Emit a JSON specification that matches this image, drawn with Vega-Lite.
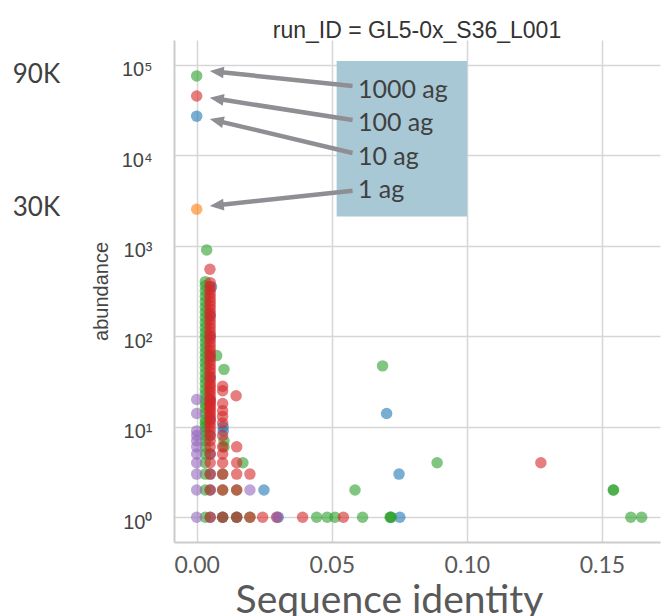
{
  "$schema": "https://vega.github.io/schema/vega-lite/v6.json",
  "width": 486,
  "height": 502,
  "autosize": {"type": "none"},
  "padding": {"left": 174, "top": 40, "right": 2, "bottom": 74},
  "background": "white",
  "config": {"view": {"stroke": null}},
  "title": {"text": "run_ID = GL5-0x_S36_L001", "font": "Liberation Sans", "fontSize": 23, "fontWeight": "normal", "color": "#333333", "baseline": "alphabetic", "frame": "group", "offset": 7, "dy": 28, "anchor": "middle"},
  "datasets": {
    "points": [
      {"sample": "10 ag", "identity": 0, "abundance": 26900},
      {"sample": "10 ag", "identity": 0.005, "abundance": 1},
      {"sample": "10 ag", "identity": 0.005, "abundance": 2},
      {"sample": "10 ag", "identity": 0.005, "abundance": 3},
      {"sample": "10 ag", "identity": 0.005, "abundance": 5},
      {"sample": "10 ag", "identity": 0.005, "abundance": 8},
      {"sample": "10 ag", "identity": 0.005, "abundance": 12},
      {"sample": "10 ag", "identity": 0.005, "abundance": 20},
      {"sample": "10 ag", "identity": 0.005, "abundance": 35},
      {"sample": "10 ag", "identity": 0.005, "abundance": 60},
      {"sample": "10 ag", "identity": 0.005, "abundance": 100},
      {"sample": "10 ag", "identity": 0.005, "abundance": 170},
      {"sample": "10 ag", "identity": 0.0055, "abundance": 350},
      {"sample": "10 ag", "identity": 0.0096, "abundance": 1},
      {"sample": "10 ag", "identity": 0.0098, "abundance": 9},
      {"sample": "10 ag", "identity": 0.0098, "abundance": 10},
      {"sample": "10 ag", "identity": 0.0148, "abundance": 1},
      {"sample": "10 ag", "identity": 0.0249, "abundance": 2},
      {"sample": "10 ag", "identity": 0.0302, "abundance": 1},
      {"sample": "10 ag", "identity": 0.0703, "abundance": 14},
      {"sample": "10 ag", "identity": 0.0749, "abundance": 3},
      {"sample": "10 ag", "identity": 0.0752, "abundance": 1},
      {"sample": "1 ag", "identity": 0, "abundance": 2518},
      {"sample": "1000 ag", "identity": 0, "abundance": 74800},
      {"sample": "1000 ag", "identity": 0.0037, "abundance": 895},
      {"sample": "1000 ag", "identity": 0.0032, "abundance": 1},
      {"sample": "1000 ag", "identity": 0.0032, "abundance": 2},
      {"sample": "1000 ag", "identity": 0.0032, "abundance": 3},
      {"sample": "1000 ag", "identity": 0.0032, "abundance": 4},
      {"sample": "1000 ag", "identity": 0.0032, "abundance": 5},
      {"sample": "1000 ag", "identity": 0.0032, "abundance": 6},
      {"sample": "1000 ag", "identity": 0.0032, "abundance": 7},
      {"sample": "1000 ag", "identity": 0.0032, "abundance": 8},
      {"sample": "1000 ag", "identity": 0.0032, "abundance": 9},
      {"sample": "1000 ag", "identity": 0.0032, "abundance": 10},
      {"sample": "1000 ag", "identity": 0.0032, "abundance": 11},
      {"sample": "1000 ag", "identity": 0.0032, "abundance": 12},
      {"sample": "1000 ag", "identity": 0.0032, "abundance": 14},
      {"sample": "1000 ag", "identity": 0.0032, "abundance": 16},
      {"sample": "1000 ag", "identity": 0.0032, "abundance": 18},
      {"sample": "1000 ag", "identity": 0.0032, "abundance": 20},
      {"sample": "1000 ag", "identity": 0.0032, "abundance": 23},
      {"sample": "1000 ag", "identity": 0.0032, "abundance": 26},
      {"sample": "1000 ag", "identity": 0.0032, "abundance": 30},
      {"sample": "1000 ag", "identity": 0.0032, "abundance": 34},
      {"sample": "1000 ag", "identity": 0.0032, "abundance": 39},
      {"sample": "1000 ag", "identity": 0.0032, "abundance": 45},
      {"sample": "1000 ag", "identity": 0.0032, "abundance": 51},
      {"sample": "1000 ag", "identity": 0.0032, "abundance": 58},
      {"sample": "1000 ag", "identity": 0.0032, "abundance": 66},
      {"sample": "1000 ag", "identity": 0.0032, "abundance": 75},
      {"sample": "1000 ag", "identity": 0.0032, "abundance": 85},
      {"sample": "1000 ag", "identity": 0.0032, "abundance": 97},
      {"sample": "1000 ag", "identity": 0.0032, "abundance": 110},
      {"sample": "1000 ag", "identity": 0.0032, "abundance": 125},
      {"sample": "1000 ag", "identity": 0.0032, "abundance": 142},
      {"sample": "1000 ag", "identity": 0.0032, "abundance": 162},
      {"sample": "1000 ag", "identity": 0.0032, "abundance": 185},
      {"sample": "1000 ag", "identity": 0.0032, "abundance": 210},
      {"sample": "1000 ag", "identity": 0.0032, "abundance": 240},
      {"sample": "1000 ag", "identity": 0.0032, "abundance": 275},
      {"sample": "1000 ag", "identity": 0.0032, "abundance": 315},
      {"sample": "1000 ag", "identity": 0.0032, "abundance": 360},
      {"sample": "1000 ag", "identity": 0.0032, "abundance": 400},
      {"sample": "1000 ag", "identity": 0.0074, "abundance": 61},
      {"sample": "1000 ag", "identity": 0.0101, "abundance": 43},
      {"sample": "1000 ag", "identity": 0.0101, "abundance": 6},
      {"sample": "1000 ag", "identity": 0.0101, "abundance": 7},
      {"sample": "1000 ag", "identity": 0.0096, "abundance": 1},
      {"sample": "1000 ag", "identity": 0.0096, "abundance": 2},
      {"sample": "1000 ag", "identity": 0.0096, "abundance": 3},
      {"sample": "1000 ag", "identity": 0.0148, "abundance": 1},
      {"sample": "1000 ag", "identity": 0.0148, "abundance": 2},
      {"sample": "1000 ag", "identity": 0.0171, "abundance": 4},
      {"sample": "1000 ag", "identity": 0.0197, "abundance": 1},
      {"sample": "1000 ag", "identity": 0.0444, "abundance": 1},
      {"sample": "1000 ag", "identity": 0.0483, "abundance": 1},
      {"sample": "1000 ag", "identity": 0.0512, "abundance": 1},
      {"sample": "1000 ag", "identity": 0.0586, "abundance": 2},
      {"sample": "1000 ag", "identity": 0.0614, "abundance": 1},
      {"sample": "1000 ag", "identity": 0.0688, "abundance": 47},
      {"sample": "1000 ag", "identity": 0.0716, "abundance": 1},
      {"sample": "1000 ag", "identity": 0.0718, "abundance": 1},
      {"sample": "1000 ag", "identity": 0.072, "abundance": 1},
      {"sample": "1000 ag", "identity": 0.089, "abundance": 4},
      {"sample": "1000 ag", "identity": 0.1542, "abundance": 2},
      {"sample": "1000 ag", "identity": 0.1543, "abundance": 2},
      {"sample": "1000 ag", "identity": 0.1607, "abundance": 1},
      {"sample": "1000 ag", "identity": 0.1647, "abundance": 1},
      {"sample": "100 ag", "identity": 0, "abundance": 44900},
      {"sample": "100 ag", "identity": 0.0049, "abundance": 548},
      {"sample": "100 ag", "identity": 0.005, "abundance": 1},
      {"sample": "100 ag", "identity": 0.005, "abundance": 2},
      {"sample": "100 ag", "identity": 0.005, "abundance": 3},
      {"sample": "100 ag", "identity": 0.005, "abundance": 4},
      {"sample": "100 ag", "identity": 0.005, "abundance": 5},
      {"sample": "100 ag", "identity": 0.005, "abundance": 6},
      {"sample": "100 ag", "identity": 0.005, "abundance": 7},
      {"sample": "100 ag", "identity": 0.005, "abundance": 8},
      {"sample": "100 ag", "identity": 0.005, "abundance": 9},
      {"sample": "100 ag", "identity": 0.005, "abundance": 10},
      {"sample": "100 ag", "identity": 0.005, "abundance": 11},
      {"sample": "100 ag", "identity": 0.005, "abundance": 12},
      {"sample": "100 ag", "identity": 0.005, "abundance": 13},
      {"sample": "100 ag", "identity": 0.005, "abundance": 14},
      {"sample": "100 ag", "identity": 0.005, "abundance": 15},
      {"sample": "100 ag", "identity": 0.005, "abundance": 16},
      {"sample": "100 ag", "identity": 0.005, "abundance": 17},
      {"sample": "100 ag", "identity": 0.005, "abundance": 18},
      {"sample": "100 ag", "identity": 0.005, "abundance": 19},
      {"sample": "100 ag", "identity": 0.005, "abundance": 20},
      {"sample": "100 ag", "identity": 0.005, "abundance": 22},
      {"sample": "100 ag", "identity": 0.005, "abundance": 24},
      {"sample": "100 ag", "identity": 0.005, "abundance": 26},
      {"sample": "100 ag", "identity": 0.005, "abundance": 28},
      {"sample": "100 ag", "identity": 0.005, "abundance": 30},
      {"sample": "100 ag", "identity": 0.005, "abundance": 33},
      {"sample": "100 ag", "identity": 0.005, "abundance": 36},
      {"sample": "100 ag", "identity": 0.005, "abundance": 40},
      {"sample": "100 ag", "identity": 0.005, "abundance": 44},
      {"sample": "100 ag", "identity": 0.005, "abundance": 48},
      {"sample": "100 ag", "identity": 0.005, "abundance": 53},
      {"sample": "100 ag", "identity": 0.005, "abundance": 58},
      {"sample": "100 ag", "identity": 0.005, "abundance": 64},
      {"sample": "100 ag", "identity": 0.005, "abundance": 70},
      {"sample": "100 ag", "identity": 0.005, "abundance": 77},
      {"sample": "100 ag", "identity": 0.005, "abundance": 85},
      {"sample": "100 ag", "identity": 0.005, "abundance": 93},
      {"sample": "100 ag", "identity": 0.005, "abundance": 102},
      {"sample": "100 ag", "identity": 0.005, "abundance": 112},
      {"sample": "100 ag", "identity": 0.005, "abundance": 124},
      {"sample": "100 ag", "identity": 0.005, "abundance": 136},
      {"sample": "100 ag", "identity": 0.005, "abundance": 150},
      {"sample": "100 ag", "identity": 0.005, "abundance": 165},
      {"sample": "100 ag", "identity": 0.005, "abundance": 182},
      {"sample": "100 ag", "identity": 0.005, "abundance": 200},
      {"sample": "100 ag", "identity": 0.005, "abundance": 220},
      {"sample": "100 ag", "identity": 0.005, "abundance": 242},
      {"sample": "100 ag", "identity": 0.005, "abundance": 266},
      {"sample": "100 ag", "identity": 0.005, "abundance": 293},
      {"sample": "100 ag", "identity": 0.005, "abundance": 322},
      {"sample": "100 ag", "identity": 0.005, "abundance": 354},
      {"sample": "100 ag", "identity": 0.005, "abundance": 390},
      {"sample": "100 ag", "identity": 0.0096, "abundance": 1},
      {"sample": "100 ag", "identity": 0.0096, "abundance": 2},
      {"sample": "100 ag", "identity": 0.0096, "abundance": 3},
      {"sample": "100 ag", "identity": 0.0096, "abundance": 4},
      {"sample": "100 ag", "identity": 0.0096, "abundance": 5},
      {"sample": "100 ag", "identity": 0.0096, "abundance": 6},
      {"sample": "100 ag", "identity": 0.0096, "abundance": 8},
      {"sample": "100 ag", "identity": 0.0096, "abundance": 11},
      {"sample": "100 ag", "identity": 0.0096, "abundance": 13},
      {"sample": "100 ag", "identity": 0.0096, "abundance": 15},
      {"sample": "100 ag", "identity": 0.0096, "abundance": 18},
      {"sample": "100 ag", "identity": 0.0096, "abundance": 25},
      {"sample": "100 ag", "identity": 0.0096, "abundance": 28},
      {"sample": "100 ag", "identity": 0.0148, "abundance": 1},
      {"sample": "100 ag", "identity": 0.0148, "abundance": 2},
      {"sample": "100 ag", "identity": 0.0148, "abundance": 3},
      {"sample": "100 ag", "identity": 0.0148, "abundance": 4},
      {"sample": "100 ag", "identity": 0.0148, "abundance": 6},
      {"sample": "100 ag", "identity": 0.0146, "abundance": 22},
      {"sample": "100 ag", "identity": 0.0197, "abundance": 1},
      {"sample": "100 ag", "identity": 0.0197, "abundance": 3},
      {"sample": "100 ag", "identity": 0.0244, "abundance": 1},
      {"sample": "100 ag", "identity": 0.0296, "abundance": 1},
      {"sample": "100 ag", "identity": 0.0392, "abundance": 1},
      {"sample": "100 ag", "identity": 0.0543, "abundance": 1},
      {"sample": "100 ag", "identity": 0.1274, "abundance": 4},
      {"sample": "NTC", "identity": 0, "abundance": 1},
      {"sample": "NTC", "identity": 0, "abundance": 2},
      {"sample": "NTC", "identity": 0, "abundance": 3},
      {"sample": "NTC", "identity": 0, "abundance": 4},
      {"sample": "NTC", "identity": 0, "abundance": 5},
      {"sample": "NTC", "identity": 0, "abundance": 6},
      {"sample": "NTC", "identity": 0, "abundance": 7},
      {"sample": "NTC", "identity": 0, "abundance": 8},
      {"sample": "NTC", "identity": 0, "abundance": 9},
      {"sample": "NTC", "identity": 0, "abundance": 14},
      {"sample": "NTC", "identity": 0, "abundance": 20},
      {"sample": "NTC", "identity": 0.0197, "abundance": 2},
      {"sample": "NTC", "identity": 0.0298, "abundance": 1}
    ],
    "box": [{"x0": 0.0518, "x1": 0.1001, "y0": 2097, "y1": 109300}],
    "arrows": [
      {"label": "1000 ag", "tailX": 0.0577, "tailY": 57900, "baseX": 0.00925, "baseY": 82130, "tipX": 0.00485, "tipY": 84750},
      {"label": "100 ag", "tailX": 0.0577, "tailY": 24380, "baseX": 0.00925, "baseY": 41020, "tipX": 0.00485, "tipY": 42990},
      {"label": "10 ag", "tailX": 0.0577, "tailY": 10540, "baseX": 0.00918, "baseY": 23290, "tipX": 0.00485, "tipY": 25010},
      {"label": "1 ag", "tailX": 0.0577, "tailY": 4042, "baseX": 0.00925, "baseY": 2830, "tipX": 0.00485, "tipY": 2739}
    ],
    "labels": [
      {"label": "1000 ag", "x": 0.0597, "y": 42950},
      {"label": "100 ag", "x": 0.0597, "y": 18540},
      {"label": "10 ag", "x": 0.0597, "y": 7800},
      {"label": "1 ag", "x": 0.0597, "y": 3370}
    ],
    "side": [
      {"text": "90K", "x": -0.0681, "y": 62950},
      {"text": "30K", "x": -0.0681, "y": 2124}
    ]
  },
  "layer": [
    {
      "data": {"name": "points"},
      "mark": {"type": "circle", "size": 132, "opacity": 0.6},
      "encoding": {
        "x": {
          "field": "identity", "type": "quantitative",
          "scale": {"domain": [-0.0084, 0.1715], "nice": false, "zero": false},
          "axis": {
            "values": [0, 0.05, 0.1, 0.15], "format": ".2f", "title": "Sequence identity",
            "grid": true, "gridColor": "#d6d6d6", "gridWidth": 1.5,
            "domainColor": "#cccccc", "domainWidth": 2, "ticks": false, "tickSize": 0,
            "labelFont": "Lato", "labelFontSize": 23, "labelColor": "#595959", "labelPadding": 12, "labelFlush": false,
            "titleFont": "Lato", "titleFontSize": 39, "titleFontWeight": "normal", "titleColor": "#595959",
            "titleX": 215, "titleY": 70, "titleBaseline": "alphabetic", "titleAlign": "center"
          }
        },
        "y": {
          "field": "abundance", "type": "quantitative",
          "scale": {"type": "log", "domain": [0.5335, 186500], "nice": false},
          "axis": {
            "values": [1, 10, 100, 1000, 10000, 100000],
            "labelExpr": "datum.value == 1 ? '10⁰' : datum.value == 10 ? '10¹' : datum.value == 100 ? '10²' : datum.value == 1000 ? '10³' : datum.value == 10000 ? '10⁴' : '10⁵'",
            "title": "abundance",
            "grid": true, "gridColor": "#d6d6d6", "gridWidth": 1.5,
            "domainColor": "#cccccc", "domainWidth": 2, "ticks": false, "tickSize": 0,
            "labelFont": "Liberation Sans", "labelFontSize": 20, "labelColor": "#444444", "labelPadding": 22,
            "labelBaseline": "middle", "labelOffset": 5, "labelOverlap": false, "labelFlush": false,
            "titleFont": "Liberation Sans", "titleFontSize": 20, "titleFontWeight": "normal", "titleColor": "#444444",
            "titleX": -67, "titleY": 251, "titleBaseline": "alphabetic", "titleAngle": 270, "titleAlign": "center"
          }
        },
        "color": {
          "field": "sample", "type": "nominal",
          "scale": {"domain": ["10 ag", "1 ag", "1000 ag", "100 ag", "NTC"], "range": ["#1f77b4", "#ff7f0e", "#2ca02c", "#d62728", "#9467bd"]},
          "legend": null
        }
      }
    },
    {
      "data": {"name": "box"},
      "mark": {"type": "rect", "color": "#a8c8d6"},
      "encoding": {
        "x": {"field": "x0", "type": "quantitative", "scale": {"domain": [-0.0084, 0.1715], "nice": false, "zero": false}},
        "x2": {"field": "x1"},
        "y": {"field": "y0", "type": "quantitative", "scale": {"type": "log", "domain": [0.5335, 186500], "nice": false}},
        "y2": {"field": "y1"}
      }
    },
    {
      "data": {"name": "arrows"},
      "mark": {"type": "rule", "color": "#8e8e93", "strokeWidth": 4.5},
      "encoding": {
        "x": {"field": "tailX", "type": "quantitative", "scale": {"domain": [-0.0084, 0.1715], "nice": false, "zero": false}},
        "x2": {"field": "baseX"},
        "y": {"field": "tailY", "type": "quantitative", "scale": {"type": "log", "domain": [0.5335, 186500], "nice": false}},
        "y2": {"field": "baseY"}
      }
    },
    {
      "data": {"name": "arrows"},
      "transform": [{"filter": "datum.label == '1000 ag'"}],
      "mark": {"type": "point", "shape": "M0,0L1,-0.42L1,0.42Z", "filled": true, "color": "#8e8e93", "opacity": 1, "size": 784, "angle": 6},
      "encoding": {
        "x": {"field": "tipX", "type": "quantitative", "scale": {"domain": [-0.0084, 0.1715], "nice": false, "zero": false}},
        "y": {"field": "tipY", "type": "quantitative", "scale": {"type": "log", "domain": [0.5335, 186500], "nice": false}}
      }
    },
    {
      "data": {"name": "arrows"},
      "transform": [{"filter": "datum.label == '100 ag'"}],
      "mark": {"type": "point", "shape": "M0,0L1,-0.42L1,0.42Z", "filled": true, "color": "#8e8e93", "opacity": 1, "size": 784, "angle": 9},
      "encoding": {
        "x": {"field": "tipX", "type": "quantitative", "scale": {"domain": [-0.0084, 0.1715], "nice": false, "zero": false}},
        "y": {"field": "tipY", "type": "quantitative", "scale": {"type": "log", "domain": [0.5335, 186500], "nice": false}}
      }
    },
    {
      "data": {"name": "arrows"},
      "transform": [{"filter": "datum.label == '10 ag'"}],
      "mark": {"type": "point", "shape": "M0,0L1,-0.42L1,0.42Z", "filled": true, "color": "#8e8e93", "opacity": 1, "size": 784, "angle": 13},
      "encoding": {
        "x": {"field": "tipX", "type": "quantitative", "scale": {"domain": [-0.0084, 0.1715], "nice": false, "zero": false}},
        "y": {"field": "tipY", "type": "quantitative", "scale": {"type": "log", "domain": [0.5335, 186500], "nice": false}}
      }
    },
    {
      "data": {"name": "arrows"},
      "transform": [{"filter": "datum.label == '1 ag'"}],
      "mark": {"type": "point", "shape": "M0,0L1,-0.42L1,0.42Z", "filled": true, "color": "#8e8e93", "opacity": 1, "size": 784, "angle": 354},
      "encoding": {
        "x": {"field": "tipX", "type": "quantitative", "scale": {"domain": [-0.0084, 0.1715], "nice": false, "zero": false}},
        "y": {"field": "tipY", "type": "quantitative", "scale": {"type": "log", "domain": [0.5335, 186500], "nice": false}}
      }
    },
    {
      "data": {"name": "labels"},
      "mark": {"type": "text", "font": "Lato", "fontSize": 25, "color": "#404040", "align": "left", "baseline": "alphabetic"},
      "encoding": {
        "x": {"field": "x", "type": "quantitative", "scale": {"domain": [-0.0084, 0.1715], "nice": false, "zero": false}},
        "y": {"field": "y", "type": "quantitative", "scale": {"type": "log", "domain": [0.5335, 186500], "nice": false}},
        "text": {"field": "label"}
      }
    },
    {
      "data": {"name": "side"},
      "mark": {"type": "text", "font": "Lato", "fontSize": 26, "color": "#404040", "align": "left", "baseline": "alphabetic"},
      "encoding": {
        "x": {"field": "x", "type": "quantitative", "scale": {"domain": [-0.0084, 0.1715], "nice": false, "zero": false}},
        "y": {"field": "y", "type": "quantitative", "scale": {"type": "log", "domain": [0.5335, 186500], "nice": false}},
        "text": {"field": "text"}
      }
    }
  ]
}
